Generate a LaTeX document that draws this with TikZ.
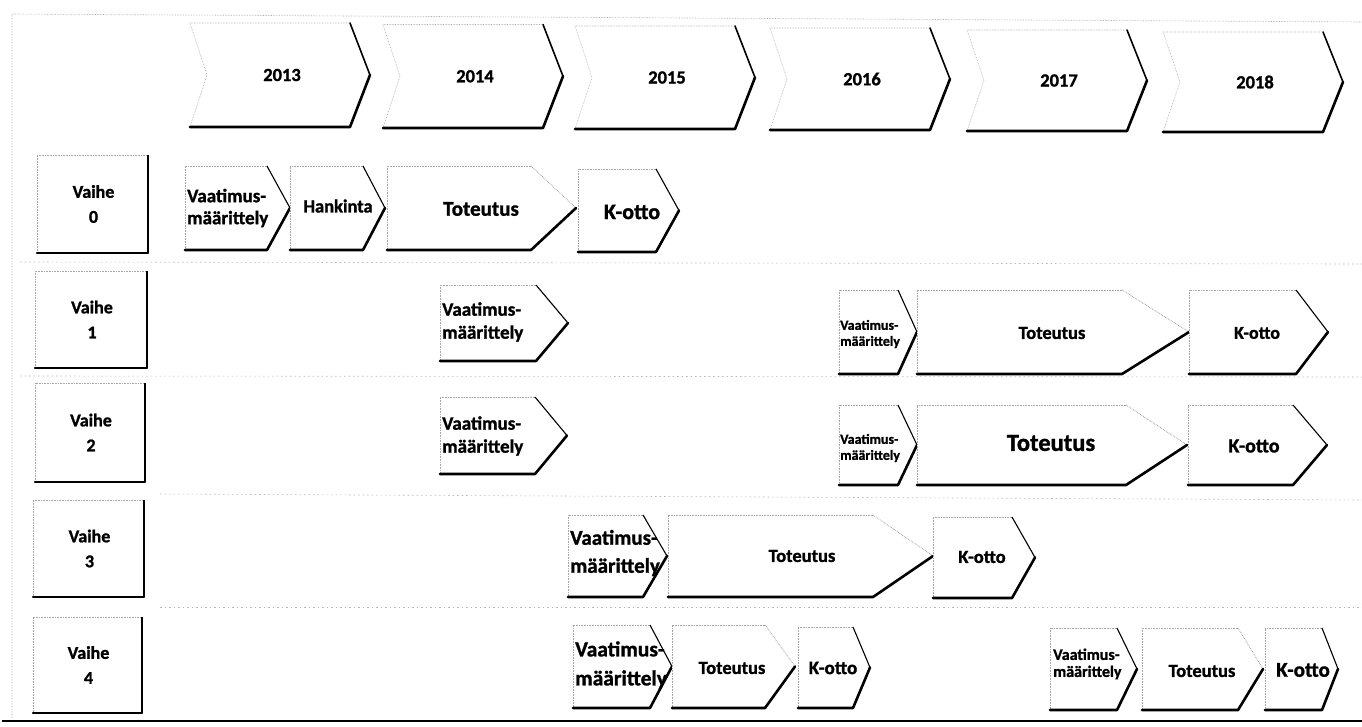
\documentclass[tikz,border=0pt]{standalone}
\usepackage{fontspec}
\setmainfont{Carlito}[BoldFeatures={FakeBold=1.2}]
\tikzset{
  faintline/.style={draw=black!35, line width=0.6pt, densely dotted},
  upperline/.style={draw=black, line width=1.1pt},
  upperfaint/.style={draw=black!45, line width=0.7pt, densely dotted},
  chevupper/.style={draw=black, line width=1.6pt, line cap=round},
  heavyline/.style={draw=black, line width=2.6pt, line join=round, line cap=round},
  boxright/.style={draw=black, line width=1.6pt},
  boxbottom/.style={draw=black, line width=2.4pt, line cap=round},
  txt/.style={inner sep=0pt, text=black},
  tf/.style 2 args={font=\bfseries\fontsize{#1}{#2}\selectfont},
  rowsep/.style={draw=black!28, line width=0.6pt, dash pattern=on 1.5pt off 3pt},
}
\newcommand\yearchev[5]{%
  \coordinate (#1-tip) at ({#2+180},{(#3+#4)/2});
  \coordinate (#1-notch) at ({#2+17},{(#3+#4)/2});
  \fill[white] (#2,#3) -- ({#2+160},#3) -- (#1-tip) -- ({#2+160},#4) -- (#2,#4) -- (#1-notch) -- cycle;
  \draw[faintline] ({#2+160},#3) -- (#2,#3) -- (#1-notch) -- (#2,#4);
  \draw[chevupper] ({#2+160},#3) -- (#1-tip);
  \draw[heavyline] (#1-tip) -- ({#2+160},#4) -- (#2,#4);
  \node[txt, tf={18.5}{20}] (#1) at ({#2+92},{(#3+#4)/2}) {#5};
}
\newcommand\vaihebox[6]{%
  \draw[faintline] (#4,#3) -- (#2,#3) -- (#2,#5);
  \draw[boxright] (#4,#3) -- (#4,#5);
  \draw[boxbottom] (#4,#5) -- (#2,#5);
  \node[txt, tf={18}{25}, align=center] (#1) at ({(#2+#4)/2+1},{(#3+#5)/2}) {Vaihe\\#6};
}
% name, L, T, C, X, B, upper style
\newcommand\taskshape[7]{%
  \coordinate (#1-tip) at (#5,{(#3+#6)/2});
  \fill[white] (#2,#3) -- (#4,#3) -- (#1-tip) -- (#4,#6) -- (#2,#6) -- cycle;
  \draw[faintline] (#4,#3) -- (#2,#3) -- (#2,#6);
  \draw[#7] (#4,#3) -- (#1-tip);
  \draw[heavyline] (#1-tip) -- (#4,#6) -- (#2,#6);
}
\begin{document}
\begin{tikzpicture}[x=1pt,y=-1pt]
\useasboundingbox (0,0) rectangle (1362,726);
\fill[white] (0,0) rectangle (1362,726);
% frame
\draw[faintline] (12,718) -- (12,14) -- (1362,22);
\draw[draw=black, line width=2pt] (2,721) -- (1362,721);
% row separators
\draw[rowsep] (20,262) -- (1362,264);
\draw[rowsep] (20,376) -- (1362,377);
\draw[rowsep] (160,494) -- (1362,500);
\draw[rowsep] (160,607) -- (1362,607);

% years
\yearchev{y2013}{190}{23}{127}{2013}
\yearchev{y2014}{383}{24.5}{128}{2014}
\yearchev{y2015}{575}{26}{129}{2015}
\yearchev{y2016}{770}{28}{130}{2016}
\yearchev{y2017}{967}{30}{131}{2017}
\yearchev{y2018}{1163}{32}{132}{2018}

% phases
\vaihebox{p0}{37}{155}{148}{253}{0}
\vaihebox{p1}{35}{271}{147}{368}{1}
\vaihebox{p2}{35}{383}{145}{482}{2}
\vaihebox{p3}{33}{500}{144}{597}{3}
\vaihebox{p4}{33}{617}{142}{713}{4}

% row 0
\taskshape{s-v0}{185}{166}{267}{290}{250}{upperline}
\node[txt, tf={19}{22}, align=left, anchor=west] (v0) at (187,208) {Vaatimus-\\määrittely};
\taskshape{s-h0}{290}{166}{363}{385}{250}{upperline}
\node[txt, tf={18.5}{20}] (h0) at (338,206) {Hankinta};
\taskshape{s-t0}{387}{166}{531}{576}{250}{upperfaint}
\node[txt, tf={21}{24}] (t0) at (481,209) {Toteutus};
\taskshape{s-k0}{578}{169}{656}{679}{252}{upperline}
\node[txt, tf={22}{24}] (k0) at (632,212) {K-otto};

% row 1
\taskshape{s-v1a}{440}{285}{536}{568}{361}{upperline}
\node[txt, tf={19}{23}, align=left, anchor=west] (v1a) at (442,322) {Vaatimus-\\määrittely};
\taskshape{s-v1b}{839}{290}{898}{917}{374}{upperline}
\node[txt, tf={14}{16}, align=left, anchor=west] (v1b) at (840,334) {Vaatimus-\\määrittely};
\taskshape{s-t1}{917}{290}{1122}{1189}{374}{upperfaint}
\node[txt, tf={18.5}{20}] (t1) at (1052,333) {Toteutus};
\taskshape{s-k1}{1189}{290}{1296}{1328}{374}{upperline}
\node[txt, tf={18}{20}] (k1) at (1257,333) {K-otto};

% row 2
\taskshape{s-v2a}{440}{397}{535}{567}{474}{upperline}
\node[txt, tf={19}{23}, align=left, anchor=west] (v2a) at (442,436) {Vaatimus-\\määrittely};
\taskshape{s-v2b}{839}{405}{898}{917}{485}{upperline}
\node[txt, tf={14}{16}, align=left, anchor=west] (v2b) at (840,448) {Vaatimus-\\määrittely};
\taskshape{s-t2}{917}{405}{1126}{1187}{485}{upperfaint}
\node[txt, tf={24.5}{26}] (t2) at (1051,443) {Toteutus};
\taskshape{s-k2}{1188}{405}{1293}{1327}{485}{upperline}
\node[txt, tf={20}{22}] (k2) at (1254,446) {K-otto};

% row 3
\taskshape{s-v3}{568}{515}{643}{667}{597}{upperline}
\node[txt, tf={21}{28}, align=left, anchor=west] (v3) at (570,553) {Vaatimus-\\määrittely};
\taskshape{s-t3}{668}{515}{873}{933}{597}{upperfaint}
\node[txt, tf={18.5}{20}] (t3) at (802,556) {Toteutus};
\taskshape{s-k3}{933}{517}{1012}{1035}{598}{upperline}
\node[txt, tf={18.5}{20}] (k3) at (982,557) {K-otto};

% row 4
\taskshape{s-v4a}{573}{625}{650}{672}{708}{upperline}
\node[txt, tf={21.5}{29}, align=left, anchor=west] (v4a) at (575,665) {Vaatimus-\\määrittely};
\taskshape{s-t4a}{672}{625}{765}{795}{708}{upperfaint}
\node[txt, tf={18.5}{20}] (t4a) at (732,668) {Toteutus};
\taskshape{s-k4a}{798}{627}{853}{870}{708}{upperline}
\node[txt, tf={19}{21}] (k4a) at (833,668) {K-otto};
\taskshape{s-v4b}{1050}{628}{1117}{1137}{710}{upperline}
\node[txt, tf={16}{17}, align=left, anchor=west] (v4b) at (1053,664) {Vaatimus-\\määrittely};
\taskshape{s-t4b}{1142}{628}{1238}{1263}{710}{upperfaint}
\node[txt, tf={18.5}{20}] (t4b) at (1202,671) {Toteutus};
\taskshape{s-k4b}{1265}{628}{1322}{1338}{710}{upperline}
\node[txt, tf={21}{23}] (k4b) at (1303,670) {K-otto};
\end{tikzpicture}
\end{document}
